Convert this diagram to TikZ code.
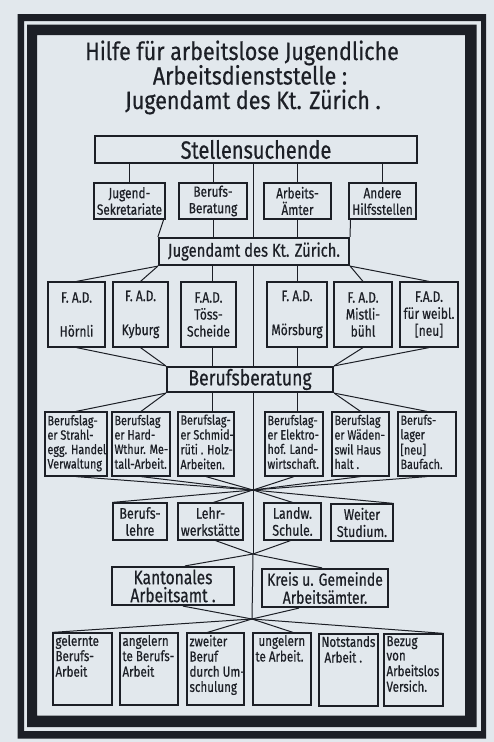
\documentclass[tikz,border=0pt]{standalone}
\usepackage{fontspec}
\setmainfont{Fira Sans}[FakeStretch=0.8, FakeBold=0.5]
\newfontfamily\titlefont{Fira Sans}[FakeStretch=0.86, FakeBold=0.5]
\definecolor{ink}{HTML}{1C1F26}
\definecolor{paper}{HTML}{E2E8ED}
\newcommand{\lefttxt}[2]{\makebox[#1][l]{\hspace{2.5pt}\begin{tabular}{@{}l@{}}#2\end{tabular}}}
\newcommand{\toptxt}[2]{\parbox[c][72pt][t]{#1}{\vspace{2pt}\lefttxt{#1}{#2}}}
\begin{document}
\begin{tikzpicture}[x=1pt,y=-1pt,
  box/.style={draw=ink, line width=1.2pt, text=ink, inner sep=0pt, align=center,
              font=\fontsize{14.8}{16.5}\selectfont},
  bbox/.style={box, line width=2.2pt},
  lbox/.style={draw=ink, line width=1.2pt, text=ink, inner sep=0pt,
              font=\fontsize{13.5}{14.3}\selectfont},
  tbox/.style={draw=ink, line width=1.2pt, text=ink, inner sep=0pt,
              font=\fontsize{14.5}{14.4}\selectfont},
  title/.style={text=ink, inner sep=0pt, anchor=base, font=\titlefont\fontsize{25}{25}\selectfont},
  conn/.style={draw=ink, line width=1pt}]
\useasboundingbox (0,0) rectangle (494,742);
\fill[paper] (0,0) rectangle (494,742);
% frame
\fill[ink, even odd rule] (17.5,14) rectangle (486,738.5) (24,21) rectangle (481,731);
\fill[ink, even odd rule] (27,24.5) rectangle (476.5,727) (37,35) rectangle (465,715.5);
% title
\node[title] (t1) at (242,60) {Hilfe für arbeitslose Jugendliche};
\node[title] (t2) at (250,84.5) {Arbeitsdienststelle :};
\node[title] (t3) at (253,109) {Jugendamt des Kt. Zürich .};
% axis coordinates
\coordinate (ax) at (253,0);
\coordinate (xl) at (212,0);
\coordinate (xr) at (297,0);
% row 1
\node[box, minimum width=322pt, minimum height=27pt, font=\fontsize{25}{25}\selectfont] (st) at (256,149.5) {Stellensuchende};
% row 2
\node[box, minimum width=71pt, minimum height=36pt] (js) at (129.5,201) {Jugend-\\Sekretariate};
\node[box, minimum width=68pt, minimum height=36pt] (bb) at (213,201) {Berufs-\\Beratung};
\node[box, minimum width=67pt, minimum height=36pt] (aa) at (297.5,201) {Arbeits-\\Ämter};
\node[box, minimum width=67pt, minimum height=36pt] (ah) at (382.5,201) {Andere\\Hilfsstellen};
% Jugendamt
\node[bbox, minimum width=190pt, minimum height=27pt, font=\fontsize{18.5}{18.5}\selectfont] (jd) at (254,251.5) {Jugendamt des Kt. Zürich.};
% F.A.D. row
\tikzset{fad/.style={box, minimum height=65pt, font=\fontsize{15}{17}\selectfont}}
\node[fad, minimum width=57pt] (f1) at (76.5,314.5) {F. A.D.\\[17pt]Hörnli};
\node[fad, minimum width=55pt] (f2) at (140.5,314.5) {F. A.D.\\[17pt]Kyburg};
\node[fad, minimum width=55pt] (f3) at (208.5,314.5) {F.A.D.\\Töss-\\Scheide};
\node[fad, minimum width=60pt] (f4) at (297,314.5) {F. A.D.\\[17pt]Mörsburg};
\node[fad, minimum width=58pt] (f5) at (363,314.5) {F. A.D.\\Mistli-\\bühl};
\node[fad, minimum width=58pt] (f6) at (429,314.5) {F.A.D.\\für weibl.\\{[neu]}};
% Berufsberatung
\node[bbox, minimum width=166pt, minimum height=25pt, font=\fontsize{22}{22}\selectfont] (bz) at (250,379.5) {Berufsberatung};
% Berufslager row
\node[lbox, minimum height=64pt] (l1) at (76,444) {\lefttxt{62pt}{Berufslag-\\er Strahl-\\egg. Handel\\Verwaltung}};
\node[lbox, minimum height=64pt] (l2) at (141,444) {\lefttxt{58pt}{Berufslag\\er Hard-\\Wthur. Me-\\tall-Arbeit.}};
\node[lbox, minimum height=64pt] (l3) at (206,444) {\lefttxt{56pt}{Berufslag-\\er Schmid-\\rüti . Holz-\\Arbeiten.}};
\node[lbox, minimum height=64pt] (l4) at (294,444) {\lefttxt{58pt}{Berufslag-\\er Elektro-\\hof. Land-\\wirtschaft.}};
\node[lbox, minimum height=64pt] (l5) at (360.5,444) {\lefttxt{57pt}{Berufslag\\er Wäden-\\swil Haus\\halt .}};
\node[lbox, minimum height=64pt] (l6) at (427,444) {\lefttxt{58pt}{Berufs-\\lager\\{[neu]}\\Baufach.}};
% convergence points
\coordinate (c1) at (253,490);
\coordinate (c2) at (253,554);
\coordinate (c3) at (252,619);
% row 5
\tikzset{rbox/.style={box, minimum height=37pt, font=\fontsize{15.5}{17}\selectfont}}
\node[rbox, minimum width=54pt] (r1) at (140,521.5) {Berufs-\\lehre};
\node[rbox, minimum width=65pt] (r2) at (210.5,521.5) {Lehr-\\werkstätte};
\node[rbox, minimum width=57pt] (r3) at (292.5,521.5) {Landw.\\Schule.};
\node[rbox, minimum width=62pt] (r4) at (362,522.5) {Weiter\\Studium.};
% row 6
\node[bbox, minimum width=122pt, minimum height=38pt, font=\fontsize{19.5}{18}\selectfont] (k1) at (173,586) {Kantonales\\Arbeitsamt .};
\node[bbox, minimum width=126pt, minimum height=38pt, font=\fontsize{17.5}{18}\selectfont] (k2) at (325,588) {Kreis u. Gemeinde\\Arbeitsämter.};
% row 7
\node[tbox] (b1) at (82.5,669) {\toptxt{59pt}{gelernte\\Berufs-\\Arbeit}};
\node[tbox] (b2) at (149,669) {\toptxt{58pt}{angelern\\te Berufs-\\Arbeit}};
\node[tbox] (b3) at (215.5,669) {\toptxt{57pt}{zweiter\\Beruf\\durch Um-\\schulung}};
\node[tbox] (b4) at (282,669) {\toptxt{58pt}{\hspace{3pt}ungelern\\te Arbeit.}};
\node[tbox] (b5) at (348.5,670) {\toptxt{59pt}{Notstands\\\hspace{3pt}Arbeit .}};
\node[tbox] (b6) at (413.5,670) {\toptxt{59pt}{Bezug\\von\\Arbeitslos\\Versich.}};
% connectors row1 -> row2
\draw[conn] (st.south -| js.north) -- (js.north);
\draw[conn] (st.south -| bb.north) -- (bb.north);
\draw[conn] (st.south -| aa.north) -- (aa.north);
\draw[conn] (st.south -| ah.north) -- (ah.north);
\draw[conn] (st.south -| ax) -- (jd.north -| ax);
% row2 -> Jugendamt
\draw[conn] ([xshift=-2pt]js.south east) -- (jd.north west);
\draw[conn] (bb.south) -- (bb.south |- jd.north);
\draw[conn] (aa.south) -- (aa.south |- jd.north);
\draw[conn] ([xshift=2pt]ah.south west) -- (jd.north east);
% Jugendamt -> F.A.D.
\draw[conn] (jd.south west) -- (f1.north);
\draw[conn] (jd.south west) -- (f2.north);
\draw[conn] (jd.south -| xl) -- (f3.north -| xl);
\draw[conn] (jd.south -| ax) -- (bz.north -| ax);
\draw[conn] (jd.south -| xr) -- (f4.north -| xr);
\draw[conn] (jd.south east) -- (f5.north);
\draw[conn] (jd.south east) -- (f6.north);
% F.A.D. -> Berufsberatung
\draw[conn] (f1.south) -- (bz.north west);
\draw[conn] (f2.south) -- (bz.north west);
\draw[conn] (f3.south -| xl) -- (bz.north -| xl);
\draw[conn] (f4.south -| xr) -- (bz.north -| xr);
\draw[conn] (f5.south) -- (bz.north east);
\draw[conn] (f6.south) -- (bz.north east);
% Berufsberatung -> Berufslager
\draw[conn] (bz.south west) -- (l1.north);
\draw[conn] (bz.south west) -- (l2.north);
\draw[conn] (bz.south -| xl) -- (l3.north -| xl);
\draw[conn] (bz.south -| ax) -- (c1);
\draw[conn] (bz.south -| xr) -- (l4.north -| xr);
\draw[conn] (bz.south east) -- (l5.north);
\draw[conn] (bz.south east) -- (l6.north);
% Berufslager -> c1
\foreach \n in {l1,l2,l3,l4,l5,l6} \draw[conn] (\n.south) -- (c1);
% c1 -> row 5
\draw[conn] (c1) -- (r1.north west);
\draw[conn] (c1) -- ([xshift=3pt]r2.north);
\draw[conn] (c1) -- (r3.north);
\draw[conn] (c1) -- (r4.north east);
\draw[conn] (c1) -- (c2);
% row 5 -> c2
\draw[conn] ([xshift=5pt]r2.south) -- (c2);
\draw[conn] ([xshift=-2pt]r3.south) -- (c2);
% c2 -> row 6
\draw[conn] (c2) -- ([xshift=12pt]k1.north);
\draw[conn] (c2) -- ([xshift=-3pt]k2.north);
\draw[conn] (c2) -- (c3);
% row 6 -> c3
\draw[conn] ([xshift=10pt]k1.south) -- (c3);
\draw[conn] ([xshift=-26pt]k2.south) -- (c3);
% c3 -> row 7
\draw[conn] (c3) -- (b1.north west);
\draw[conn] (c3) -- ([xshift=-8pt]b3.north);
\draw[conn] (c3) -- ([xshift=11pt]b4.north);
\draw[conn] (c3) -- (b6.north east);
\end{tikzpicture}
\end{document}
